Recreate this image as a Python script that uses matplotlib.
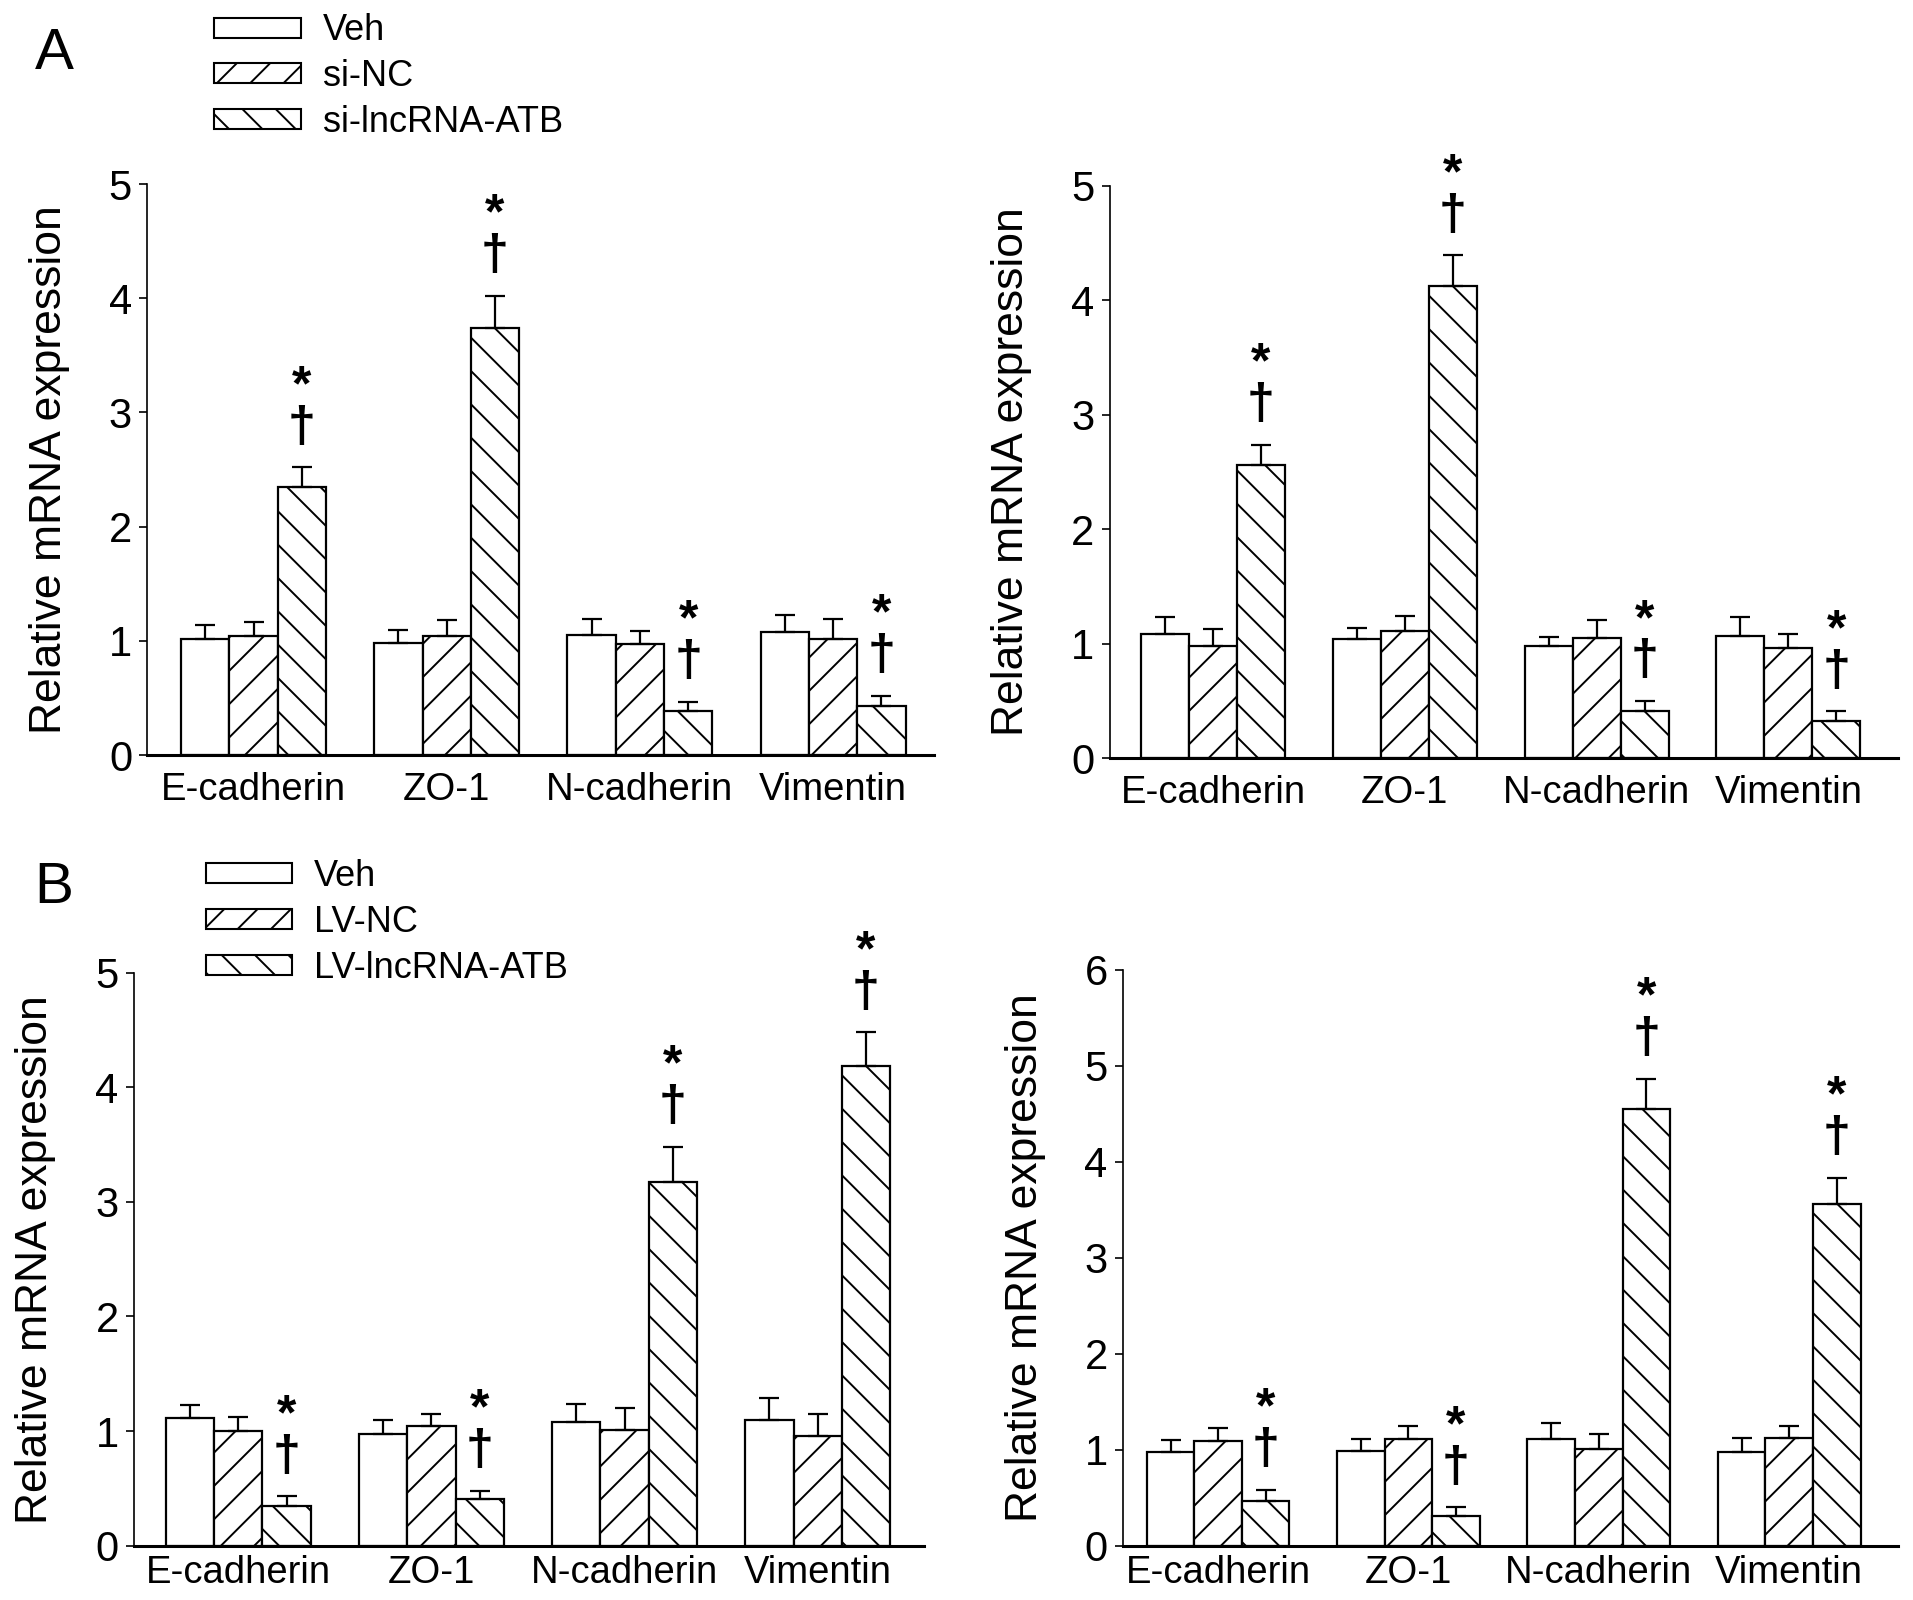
import numpy as np
import matplotlib.pyplot as plt
from matplotlib.patches import Patch

plt.rcParams['font.family'] = ['Liberation Sans', 'DejaVu Sans']
plt.rcParams['hatch.linewidth'] = 1.4

genes = ['E-cadherin', 'ZO-1', 'N-cadherin', 'Vimentin']

# A, left panel
a1_veh = [1.02, 0.98, 1.05, 1.08]
a1_veh_err = [0.12, 0.12, 0.14, 0.15]
a1_nc = [1.04, 1.04, 0.97, 1.02]
a1_nc_err = [0.13, 0.14, 0.12, 0.17]
a1_atb = [2.35, 3.74, 0.39, 0.43]
a1_atb_err = [0.17, 0.28, 0.08, 0.09]

# A, right panel
a2_veh = [1.09, 1.04, 0.98, 1.07]
a2_veh_err = [0.14, 0.10, 0.08, 0.16]
a2_nc = [0.98, 1.11, 1.05, 0.96]
a2_nc_err = [0.15, 0.13, 0.16, 0.13]
a2_atb = [2.56, 4.12, 0.41, 0.33]
a2_atb_err = [0.18, 0.27, 0.09, 0.08]

# B, left panel
b1_veh = [1.11, 0.97, 1.08, 1.10]
b1_veh_err = [0.12, 0.13, 0.16, 0.19]
b1_nc = [1.00, 1.04, 1.01, 0.96]
b1_nc_err = [0.12, 0.11, 0.19, 0.19]
b1_atb = [0.35, 0.41, 3.17, 4.19]
b1_atb_err = [0.08, 0.07, 0.31, 0.29]

# B, right panel
b2_veh = [0.98, 0.99, 1.11, 0.97]
b2_veh_err = [0.12, 0.12, 0.17, 0.15]
b2_nc = [1.09, 1.11, 1.01, 1.12]
b2_nc_err = [0.13, 0.14, 0.15, 0.13]
b2_atb = [0.46, 0.31, 4.55, 3.56]
b2_atb_err = [0.12, 0.09, 0.31, 0.27]

hatches = ['', '/', '\\']
width = 0.25


def draw_panel(ax, series, errs, ymax, xlim, xpad):
    x = np.arange(len(genes))
    for i, (vals, err) in enumerate(zip(series, errs)):
        pos = x + (i - 1) * width
        ax.bar(pos, vals, width, color='white', edgecolor='black',
               linewidth=1.6, hatch=hatches[i], zorder=2)
        ax.errorbar(pos, vals, yerr=[np.zeros(len(err)), err], fmt='none',
                    ecolor='black', elinewidth=1.6, capsize=7, capthick=1.6,
                    zorder=3)
    # star over dagger on the third bar of every group
    pos = x + width
    for p, v, e in zip(pos, series[2], errs[2]):
        ax.annotate('*\n\u2020', xy=(p, v + e), xytext=(0, 12),
                    textcoords='offset points', ha='center', va='bottom',
                    fontsize=36, fontweight='bold', linespacing=0.85,
                    multialignment='center')
    ax.set_ylim(0, ymax)
    ax.set_xlim(*xlim)
    ax.set_yticks(range(0, ymax + 1))
    ax.set_xticks(x)
    ax.set_xticklabels(genes, fontsize=27.5)
    ax.tick_params(axis='x', length=0, pad=xpad)
    ax.tick_params(axis='y', labelsize=30, length=6, width=1.2,
                   direction='out', pad=5)
    ax.spines['top'].set_visible(False)
    ax.spines['right'].set_visible(False)
    ax.spines['left'].set_linewidth(1.2)
    ax.spines['bottom'].set_linewidth(2.2)
    ax.set_ylabel('Relative mRNA expression', fontsize=32, labelpad=28)


fig = plt.figure(figsize=(19.13, 16), dpi=100)

ax1 = fig.add_axes([0.077, 0.528, 0.411, 0.357])
ax2 = fig.add_axes([0.580, 0.526, 0.412, 0.358])
ax3 = fig.add_axes([0.070, 0.034, 0.413, 0.358])
ax4 = fig.add_axes([0.587, 0.034, 0.405, 0.360])

draw_panel(ax1, [a1_veh, a1_nc, a1_atb], [a1_veh_err, a1_nc_err, a1_atb_err], 5, (-0.55, 3.52), 12)
draw_panel(ax2, [a2_veh, a2_nc, a2_atb], [a2_veh_err, a2_nc_err, a2_atb_err], 5, (-0.54, 3.57), 12)
draw_panel(ax3, [b1_veh, b1_nc, b1_atb], [b1_veh_err, b1_nc_err, b1_atb_err], 5, (-0.54, 3.55), 7)
draw_panel(ax4, [b2_veh, b2_nc, b2_atb], [b2_veh_err, b2_nc_err, b2_atb_err], 6, (-0.5, 3.57), 7)

labels_a = ['Veh', 'si-NC', 'si-lncRNA-ATB']
labels_b = ['Veh', 'LV-NC', 'LV-lncRNA-ATB']


def add_legend(labels, anchor):
    handles = [Patch(facecolor='white', edgecolor='black', linewidth=1.5,
                     hatch=h, label=l) for h, l in zip(hatches, labels)]
    fig.legend(handles=handles, loc='upper left', bbox_to_anchor=anchor,
               frameon=False, fontsize=26, handlelength=2.4,
               handleheight=0.47, handletextpad=0.6, labelspacing=0.3,
               borderpad=0, borderaxespad=0)


add_legend(labels_a, (0.112, 0.9916))
add_legend(labels_b, (0.1075, 0.463))

fig.text(0.018, 0.966, 'A', fontsize=42, va='center')
fig.text(0.018, 0.445, 'B', fontsize=42, va='center')

fig.savefig('out.png', dpi=100)
